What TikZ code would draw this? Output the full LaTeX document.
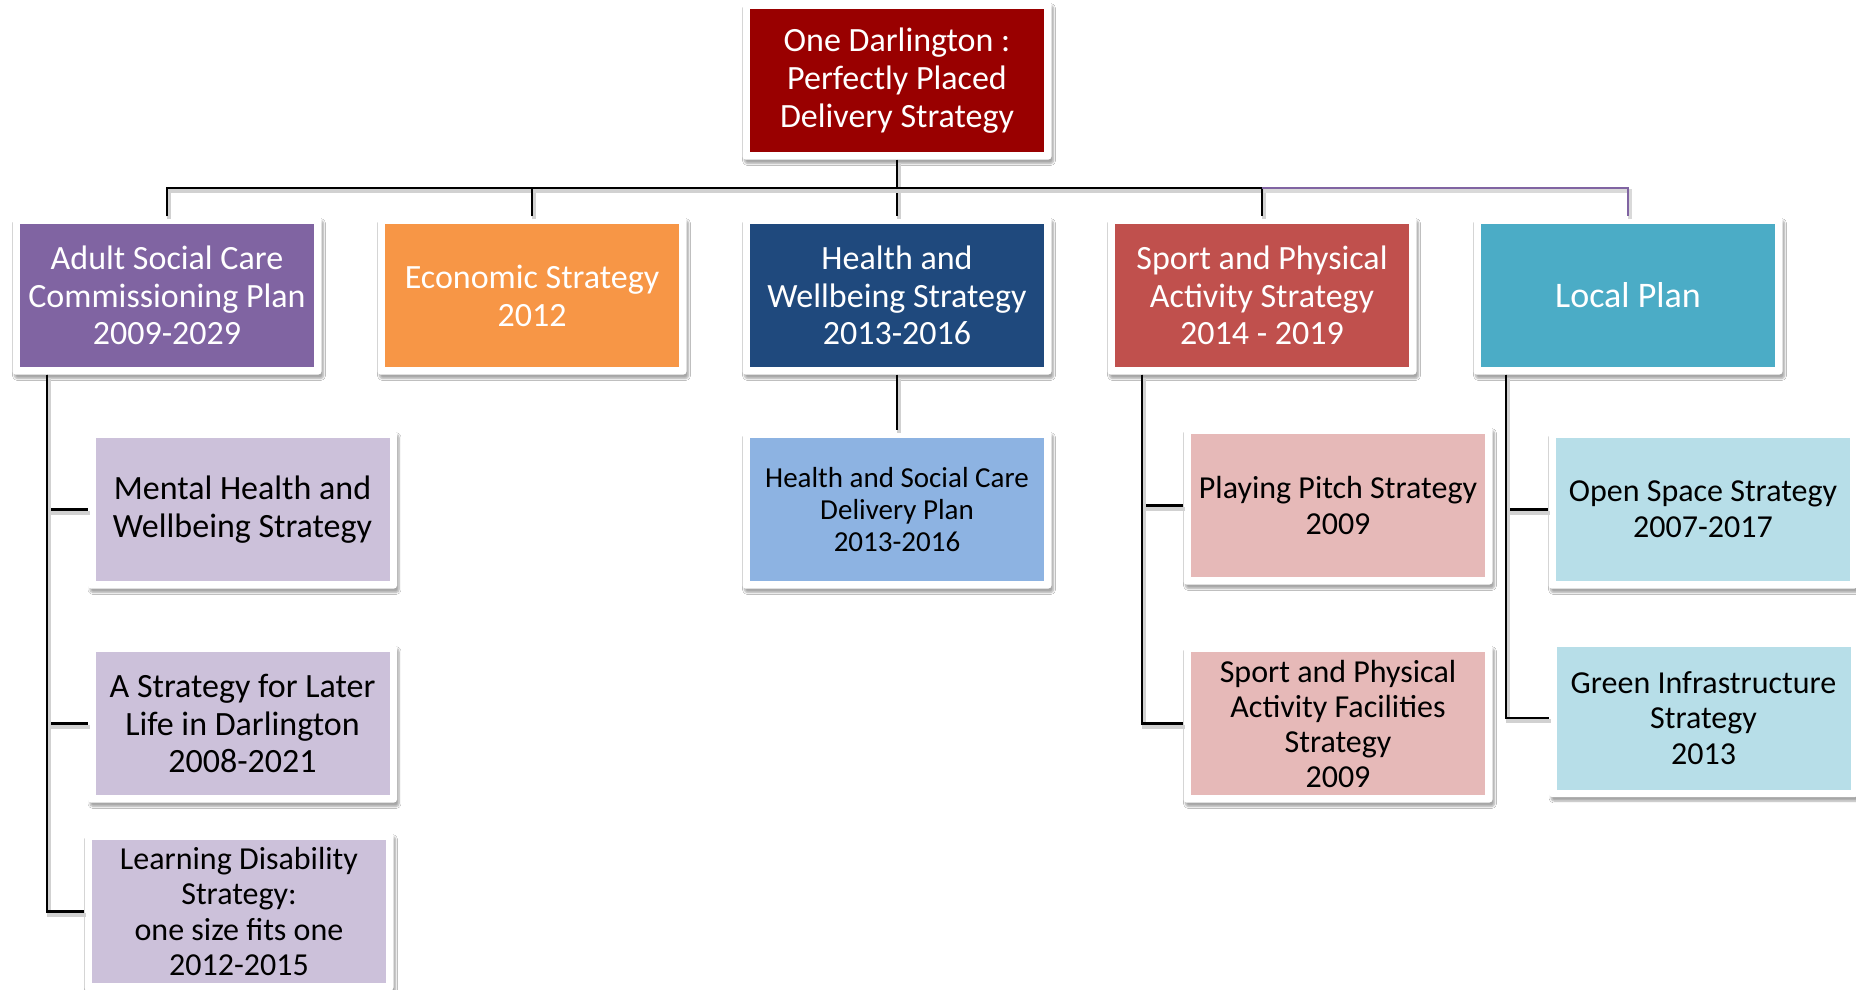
\documentclass[tikz,border=0pt]{standalone}
\usepackage{fontspec}
\setmainfont{Carlito}
\usetikzlibrary{shadows.blur}
\definecolor{cTop}{HTML}{990000}
\definecolor{cAdult}{HTML}{8064A2}
\definecolor{cEcon}{HTML}{F79646}
\definecolor{cHealth}{HTML}{1F497D}
\definecolor{cSport}{HTML}{C0504D}
\definecolor{cLocal}{HTML}{4BACC6}
\definecolor{cLPurple}{HTML}{CCC1DA}
\definecolor{cLBlue}{HTML}{8DB3E2}
\definecolor{cLRed}{HTML}{E6B9B8}
\definecolor{cLCyan}{HTML}{B7DEE8}
\tikzset{
  box/.style={rectangle, rounded corners=3pt, fill=white, draw=none,
    minimum width=309pt, minimum height=158pt, inner sep=0pt, align=center,
    blur shadow={shadow xshift=2pt, shadow yshift=-4pt, shadow blur steps=6, shadow opacity=35},
    path picture={\fill[#1, sharp corners] ([xshift=7.5pt,yshift=-7.5pt]path picture bounding box.north west)
       rectangle ([xshift=-7.5pt,yshift=7.5pt]path picture bounding box.south east);}},
  wtext/.style={text=white},
  btext/.style={text=black},
  conn/.style={draw=black, line width=2.5pt,
    preaction={draw=black!18, line width=4pt, transform canvas={xshift=2pt,yshift=-3pt}}},
  pconn/.style={draw=cAdult, line width=2pt,
    preaction={draw=black!15, line width=3.5pt, transform canvas={xshift=2pt,yshift=-3pt}}},
}
\begin{document}
\begin{tikzpicture}[x=1pt,y=-1pt]
\useasboundingbox (0,0) rectangle (1856,990);
\fill[white] (0,0) rectangle (1856,990);

\coordinate (bus) at (0,188);
\coordinate (tA) at (47,0);
\coordinate (tS) at (1142,0);
\coordinate (tL) at (1506,0);

% boxes
\node[box=cTop, wtext, font=\fontsize{34}{38}\selectfont] (top) at (897,80.5) {One Darlington :\\Perfectly Placed\\Delivery Strategy};

\node[box=cAdult, wtext, font=\fontsize{34}{37.5}\selectfont] (adult) at (167,295.5) {Adult Social Care\\Commissioning Plan\\2009-2029};
\node[box=cEcon, wtext, font=\fontsize{34}{38}\selectfont] (econ) at (532,295.5) {Economic Strategy\\2012};
\node[box=cHealth, wtext, font=\fontsize{34}{37.5}\selectfont] (health) at (897,295.5) {Health and\\Wellbeing Strategy\\2013-2016};
\node[box=cSport, wtext, font=\fontsize{34}{37.5}\selectfont] (sport) at (1262,295.5) {Sport and Physical\\Activity Strategy\\2014 - 2019};
\node[box=cLocal, wtext, font=\fontsize{36}{40}\selectfont] (local) at (1628,295.5) {Local Plan};

\node[box=cLPurple, btext, font=\fontsize{34}{38.5}\selectfont] (mental) at (242.5,509.5) {Mental Health and\\Wellbeing Strategy};
\node[box=cLPurple, btext, font=\fontsize{34}{37.5}\selectfont] (later) at (242.5,723.5) {A Strategy for Later\\Life in Darlington\\2008-2021};
\node[box=cLPurple, btext, font=\fontsize{32}{35.5}\selectfont] (learning) at (239,911.5) {Learning Disability\\Strategy:\\one size fits one\\2012-2015};

\node[box=cLBlue, btext, font=\fontsize{29}{32.3}\selectfont] (hsc) at (897,509.5) {Health and Social Care\\Delivery Plan\\2013-2016};

\node[box=cLRed, btext, font=\fontsize{32}{36}\selectfont] (playing) at (1338,505.5) {Playing Pitch Strategy\\2009};
\node[box=cLRed, btext, font=\fontsize{32}{35}\selectfont] (facil) at (1338,723.5) {Sport and Physical\\Activity Facilities\\Strategy\\2009};

\node[box=cLCyan, btext, font=\fontsize{32}{36}\selectfont] (open) at (1703,509.5) {Open Space Strategy\\2007-2017};
\node[box=cLCyan, btext, font=\fontsize{32}{35.5}\selectfont] (green) at (1703.5,718) {Green Infrastructure\\Strategy\\2013};

% top-level connectors
\draw[conn] (top.south) -- (health.north);
\draw[conn] (adult.north) -- (adult.north |- bus) -- (sport.north |- bus) -- (sport.north);
\draw[conn] (econ.north) -- (econ.north |- bus);
\draw[pconn] (sport.north |- bus) -- (local.north |- bus) -- (local.north);

% lower connectors
\draw[conn] (health.south) -- (hsc.north);
\draw[conn] (adult.south -| tA) |- (mental.west);
\draw[conn] (adult.south -| tA) |- (later.west);
\draw[conn] (adult.south -| tA) |- (learning.west);
\draw[conn] (sport.south -| tS) |- (playing.west);
\draw[conn] (sport.south -| tS) |- (facil.west);
\draw[conn] (local.south -| tL) |- (open.west);
\draw[conn] (local.south -| tL) |- (green.west);
\end{tikzpicture}
\end{document}
